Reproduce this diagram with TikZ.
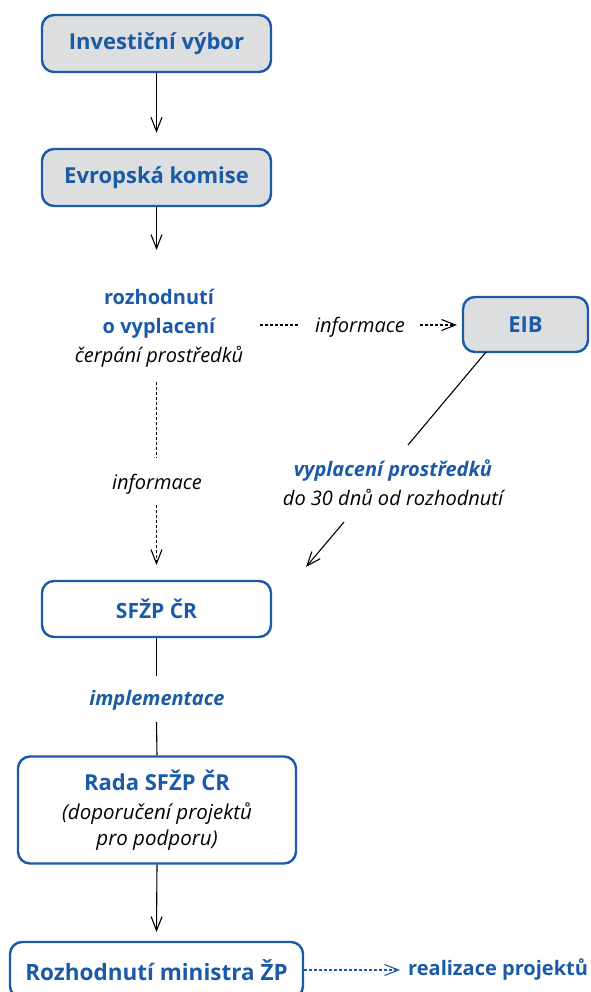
\documentclass[tikz,border=0pt]{standalone}
\usepackage{fontspec}
\setmainfont{Open Sans}
\usetikzlibrary{arrows.meta,calc}
\definecolor{cblue}{RGB}{26,90,166}
\definecolor{cgray}{RGB}{221,222,224}
\tikzset{
  box/.style={draw=cblue, line width=2.4pt, rounded corners=12pt, align=center, inner sep=0pt, text=cblue, font=\bfseries\fontsize{22}{26}\selectfont},
  graybox/.style={box, fill=cgray},
  whitebox/.style={box, fill=white},
  lbl/.style={inner sep=0pt, align=center, font=\itshape\fontsize{20}{29}\selectfont},
  conn/.style={line width=1.1pt, black},
  arr/.style={conn, -{Straight Barb[length=14pt,width=11pt,line width=1.1pt]}},
  dsh/.style={dash pattern=on 3pt off 2pt},
}
\begin{document}
\begin{tikzpicture}[x=1pt,y=-1pt]
\useasboundingbox (0,0) rectangle (590,992);
% boxes
\node[graybox, minimum width=229pt, minimum height=57pt] (b1) at (156.5,43.5) {Investiční výbor};
\node[graybox, minimum width=229pt, minimum height=57pt] (b2) at (156.5,177.5) {Evropská komise};
\node[graybox, minimum width=125pt, minimum height=55pt] (eib) at (525.5,324.5) {EIB};
\node[whitebox, minimum width=229pt, minimum height=56pt, font=\bfseries\fontsize{21}{25}\selectfont] (sf) at (156.5,609) {SFŽP ČR};
\node[whitebox, minimum width=278pt, minimum height=107pt] (rada) at (157,810) {{\fontsize{22}{28}\selectfont Rada SFŽP ČR}\\[3pt]{\color{black}\mdseries\itshape\fontsize{20.5}{28}\selectfont (doporučení projektů}\\{\color{black}\mdseries\itshape\fontsize{20.5}{28}\selectfont pro podporu)}};
\node[whitebox, minimum width=293pt, minimum height=56pt, font=\bfseries\fontsize{22.5}{26}\selectfont] (rm) at (156.5,970) {Rozhodnutí ministra ŽP};
% labels
\node[lbl] (dec) at (159,328) {{\color{cblue}\bfseries\upshape rozhodnutí}\\{\color{cblue}\bfseries\upshape o vyplacení}\\čerpání prostředků};
\node[lbl] (inf1) at (360,327) {informace};
\node[lbl] (vyp) at (393,483) {{\color{cblue}\bfseries vyplacení prostředků}\\do 30 dnů od rozhodnutí};
\node[lbl] (inf2) at (157,484) {informace};
\node[lbl, text=cblue, font=\bfseries\itshape\fontsize{20}{24}\selectfont] (impl) at (157,700) {implementace};
\node[inner sep=0pt, anchor=west, text=cblue, font=\bfseries\fontsize{20}{24}\selectfont] (real) at (408,970) {realizace projektů};
% helper coordinates
\coordinate (t1) at (156.5,250);
\coordinate (d1a) at (260,325);
\coordinate (d1b) at (298,325);
\coordinate (d2a) at (420,325);
\coordinate (d2b) at (457,325);
\coordinate (e1) at (486,352);
\coordinate (e2) at (408,445);
\coordinate (e3) at (344,522);
\coordinate (e4) at (306,567);
\coordinate (v1) at (156.5,382);
\coordinate (v2) at (156.5,458);
\coordinate (v3) at (156.5,505);
\coordinate (v4) at (156.5,565);
\coordinate (s2) at (156.5,676);
\coordinate (s3) at (156.5,722);
\coordinate (r2) at (156.5,932);
\coordinate (m2) at (400,970);
% connectors
\draw[arr, shorten >=15pt] (b1.south) -- (b2.north);
\draw[arr] (b2.south) -- (t1);
\draw[conn, dsh] (d1a) -- (d1b);
\draw[arr, dsh] (d2a) -- (d2b);
\draw[conn] (e1) -- (e2);
\draw[arr] (e3) -- (e4);
\draw[conn, dsh] (v1) -- (v2);
\draw[arr, dsh] (v3) -- (v4);
\draw[conn] (sf.south) -- (s2);
\draw[conn] (s3) -- (rada.north);
\draw[arr] (rada.south) -- (r2);
\draw[arr, dsh, draw=cblue] (rm.east) -- (m2);
\end{tikzpicture}
\end{document}
